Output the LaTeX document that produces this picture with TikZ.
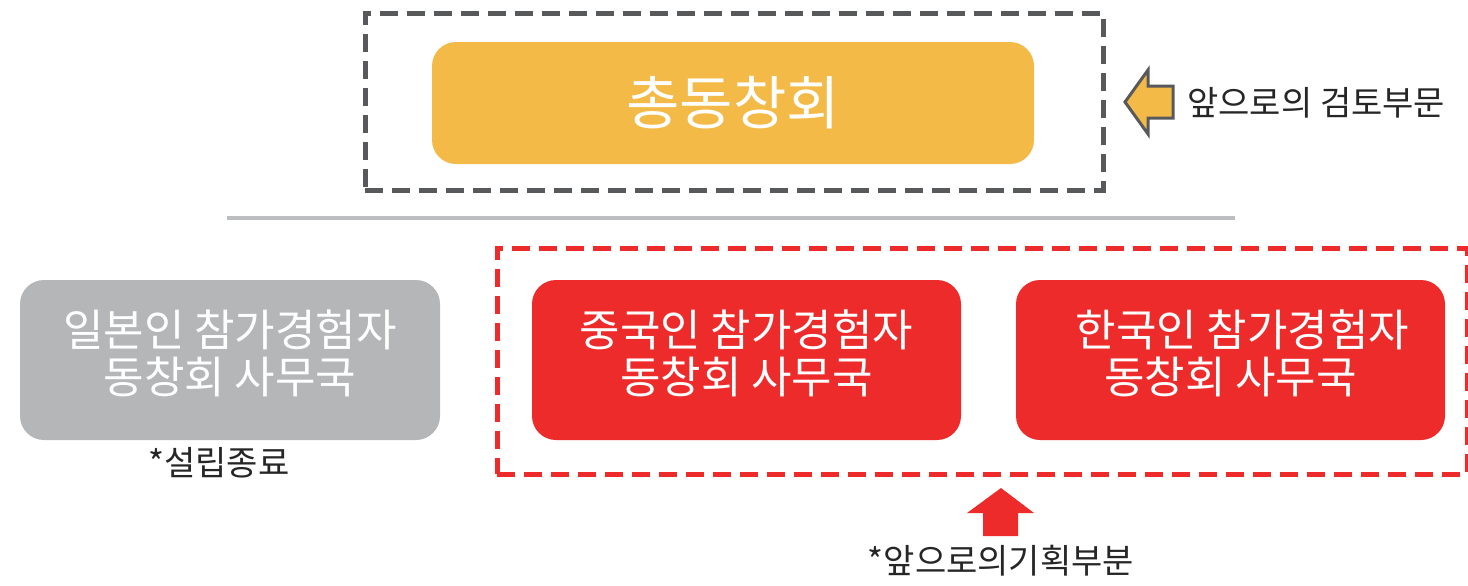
\documentclass[tikz,border=0pt]{standalone}
\usepackage{fontspec}
\setmainfont{Noto Sans CJK KR}
\usetikzlibrary{positioning}
\definecolor{darkgr}{HTML}{58595B}
\definecolor{orng}{HTML}{F4BA47}
\definecolor{redc}{HTML}{EE2B2B}
\definecolor{lgray}{HTML}{B5B6B8}
\definecolor{linegr}{HTML}{BDBEC0}
\newcommand{\liftstrut}{\rule[-8pt]{0pt}{0pt}}
\tikzset{
  box/.style={rounded corners=12pt, inner sep=0pt, align=center, text=white, font=\fontsize{22}{23.5}\selectfont},
  dashbox/.style={draw, line width=2.5pt, inner sep=0pt, dash pattern=on 9pt off 4.5pt},
  lbl/.style={inner sep=0pt, text=black!85, font=\fontsize{17}{20}\selectfont},
}
\begin{document}
\begin{tikzpicture}[x=0.5pt,y=-0.5pt]
\useasboundingbox (0,0) rectangle (1468,585);
% top
\node[dashbox, draw=darkgr, minimum width=369pt, minimum height=88.5pt] (topframe) at (734,101.5) {};
\node[box, fill=orng, minimum width=301pt, minimum height=61pt, font=\fontsize{29}{32}\selectfont] (main) at (733,103) {총동창회};
% left arrow
\coordinate (la1) at (1125,102);
\fill[orng, draw=darkgr, line width=1.5pt, line join=miter] (la1) -- (1148,70) -- (1148,86) -- (1173,86) -- (1173,118) -- (1148,118) -- (1148,134) -- cycle;
\node[lbl, anchor=west] (review) at (1187,103) {앞으로의 검토부문};
% separator
\coordinate (s1) at (227,218);
\coordinate (s2) at (1235,218);
\draw[linegr, line width=2pt] (s1) -- (s2);
% bottom
\node[dashbox, draw=redc, minimum width=485pt, minimum height=113pt] (redframe) at (982,361) {};
\node[box, fill=lgray, minimum width=210pt, minimum height=80pt] (japan) at (230,360) {일본인 참가경험자\\동창회 사무국\liftstrut};
\node[box, fill=redc, minimum width=214.5pt, minimum height=80pt] (china) at (746.5,360) {중국인 참가경험자\\동창회 사무국\liftstrut};
\node[box, fill=redc, minimum width=214.5pt, minimum height=80pt] (korea) at (1230.5,360) {\hspace{12pt}한국인 참가경험자\\동창회 사무국\liftstrut};
\node[lbl, anchor=center] (closed) at (219,463) {*설립종료};
% up arrow
\coordinate (ua1) at (1001,488);
\fill[redc] (ua1) -- (1034,513) -- (1018,513) -- (1018,536) -- (983,536) -- (983,513) -- (967,513) -- cycle;
\node[lbl, anchor=center] (plan) at (1001,561) {*앞으로의기획부분};
\end{tikzpicture}
\end{document}
